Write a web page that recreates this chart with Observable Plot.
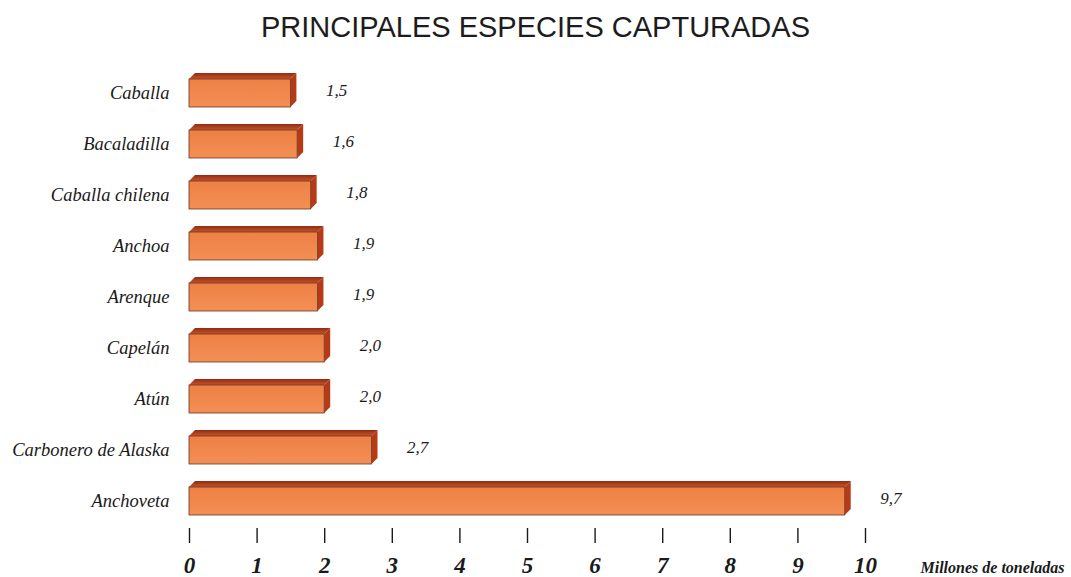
<!DOCTYPE html>
<html><head><meta charset="utf-8">
<script src="https://cdn.jsdelivr.net/npm/d3@7"></script>
<script src="https://cdn.jsdelivr.net/npm/@observablehq/plot@0.6"></script>
<style>
body{margin:0;background:#fff;width:1071px;height:577px;overflow:hidden}
#title{height:56px;box-sizing:border-box;padding-top:13px;text-align:center;font:29px/29px "Liberation Sans",Arial,sans-serif;color:#1c1c1c;white-space:nowrap}
#chart svg{display:block}
</style></head><body>
<div id="title"></div>
<div id="chart"></div>
<script>
const title = "PRINCIPALES ESPECIES CAPTURADAS";
const species = ["Caballa","Bacaladilla","Caballa chilena","Anchoa","Arenque","Capelán","Atún","Carbonero de Alaska","Anchoveta"];
const catches = [1.5,1.6,1.8,1.9,1.9,2.0,2.0,2.7,9.7];
const xTicks = [0,1,2,3,4,5,6,7,8,9,10];
const unitLabel = "Millones de toneladas";

const data = species.map((name, i) => ({name, value: catches[i]}));
const fmt = v => v.toFixed(1).replace(".", ",");
const depth = 6;

document.getElementById("title").textContent = title;

function bars3d(index, scales) {
  const x = scales.x, y = scales.y;
  const bw = y.bandwidth ? y.bandwidth() : 33.5;
  const g = d3.create("svg:g");
  const defs = g.append("defs");
  const gf = defs.append("linearGradient").attr("id", "gFront").attr("x1", 0).attr("y1", 0).attr("x2", 0).attr("y2", 1);
  gf.append("stop").attr("offset", "0%").attr("stop-color", "#ee8044");
  gf.append("stop").attr("offset", "100%").attr("stop-color", "#f38f55");
  const gt = defs.append("linearGradient").attr("id", "gTop").attr("x1", 0).attr("y1", 0).attr("x2", 0).attr("y2", 1);
  gt.append("stop").attr("offset", "0%").attr("stop-color", "#8e2c12");
  gt.append("stop").attr("offset", "100%").attr("stop-color", "#c8552a");
  for (const d of data) {
    const x0 = x(0), x1 = x(d.value), yt = y(d.name), yb = yt + bw;
    const yf = yt + depth;
    g.append("polygon")
      .attr("points", [[x0, yf], [x0 + depth, yt], [x1 + depth, yt], [x1, yf]].map(p => p.join(",")).join(" "))
      .attr("fill", "url(#gTop)");
    g.append("polygon")
      .attr("points", [[x1, yf], [x1 + depth, yt], [x1 + depth, yb - depth], [x1, yb]].map(p => p.join(",")).join(" "))
      .attr("fill", "#b73a17");
    g.append("rect")
      .attr("x", x0).attr("y", yf).attr("width", x1 - x0).attr("height", yb - yf)
      .attr("fill", "url(#gFront)")
      .attr("stroke", "#6a3320").attr("stroke-width", 0.8);
  }
  return g.node();
}

const chart = Plot.plot({
  width: 1071,
  height: 521,
  marginLeft: 189,
  marginRight: 206,
  marginTop: 0,
  marginBottom: 49,
  style: {fontFamily: "'Liberation Serif', serif", color: "#1a1a1a", background: "#fff", overflow: "visible"},
  x: {domain: [0, 10], axis: null},
  y: {type: "band", domain: species, range: [15, 461.5], paddingInner: 0.33, paddingOuter: 0, axis: null},
  marks: [
    bars3d,
    Plot.axisY({tickSize: 0, tickPadding: 20, fontSize: 18.5, fontStyle: "italic", dy: 3, label: null}),
    Plot.axisX({ticks: xTicks, tickFormat: d => String(d), tickSize: 15, tickPadding: 13, fontSize: 23, fontWeight: "bold", fontStyle: "italic", strokeWidth: 1.4, label: null}),
    Plot.text(data, {x: "value", y: "name", text: d => fmt(d.value), dx: 35, dy: 0, textAnchor: "start", fontSize: 17, fontStyle: "italic"}),
    Plot.text([unitLabel], {frameAnchor: "bottom-right", text: d => d, textAnchor: "start", dx: 55, dy: 44, fontSize: 16, fontWeight: "bold", fontStyle: "italic"})
  ]
});
document.getElementById("chart").appendChild(chart);
</script>
</body></html>
